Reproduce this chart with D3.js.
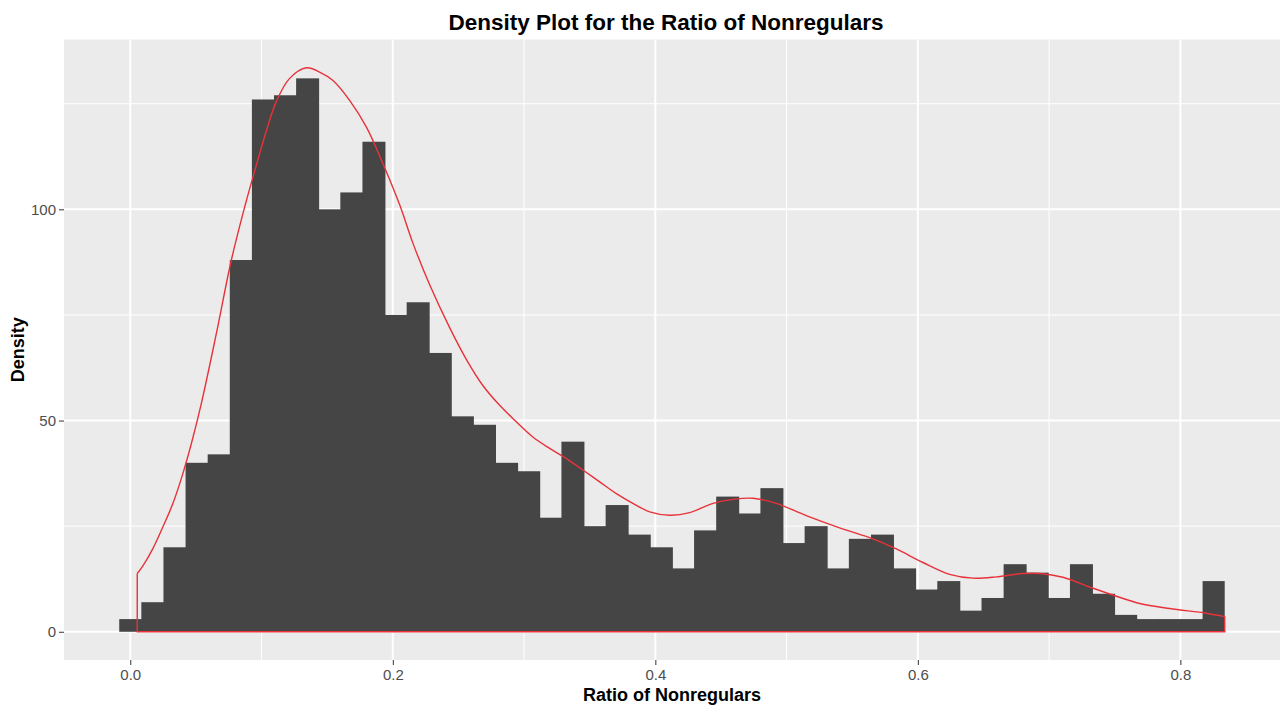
<!DOCTYPE html>
<html>
<head>
<meta charset="utf-8">
<script src="https://cdn.jsdelivr.net/npm/d3@7"></script>
<style>
  html, body { margin: 0; padding: 0; background: #ffffff; }
  svg { display: block; }
  text { font-family: "Liberation Sans", Arial, Helvetica, sans-serif; }
</style>
</head>
<body>
<svg id="chart" width="1282" height="708"></svg>
<script>
// ---- data ----
const binStart = -0.00842;      // left edge of first bin
const binWidth = 0.016844;      // width of each bin
const binCounts = [3, 7, 20, 40, 42, 88, 126, 127, 131, 100,
                   104, 116, 75, 78, 66, 51, 49, 40, 38, 27,
                   45, 25, 30, 23, 20, 15, 24, 32, 28, 34,
                   21, 25, 15, 22, 23, 15, 10, 12, 5, 8,
                   16, 14, 8, 16, 9, 4, 3, 3, 3, 12];

const densX = [0.0053, 0.0096, 0.0172, 0.0248, 0.0325, 0.0401, 0.0465, 0.0541, 0.0655, 0.0770,
               0.0871, 0.0947, 0.1036, 0.1112, 0.1214, 0.1343, 0.1442, 0.1544, 0.1671, 0.1798,
               0.1925, 0.2053, 0.2153, 0.2280, 0.2433, 0.2560, 0.2686, 0.2814, 0.2941, 0.3067,
               0.3195, 0.3322, 0.3448, 0.3576, 0.3703, 0.3829, 0.3957, 0.4110, 0.4261, 0.4439,
               0.4604, 0.4744, 0.4922, 0.5150, 0.5404, 0.5658, 0.5836, 0.6039, 0.6242, 0.6420,
               0.6598, 0.6801, 0.6928, 0.7105, 0.7309, 0.7486, 0.7690, 0.7918, 0.8198, 0.8338];
const densY = [13.8, 15.6, 19.7, 24.8, 30.4, 37.5, 44.5, 54.0, 70.5, 88.0,
               100.5, 109.0, 118.5, 125.5, 131.0, 133.5, 132.5, 130.5, 125.8, 119.5,
               110.8, 101.0, 92.0, 82.2, 72.0, 64.5, 58.3, 53.6, 49.7, 46.1,
               43.4, 41.0, 38.3, 35.5, 32.7, 30.4, 28.4, 27.6, 28.2, 30.4,
               31.4, 31.6, 30.4, 27.5, 24.6, 22.0, 19.6, 16.4, 13.6, 12.7,
               13.0, 13.8, 13.8, 12.9, 10.6, 8.7, 6.7, 5.5, 4.4, 3.6];

const xTicks = [0.0, 0.2, 0.4, 0.6, 0.8];
const xMinor = [0.1, 0.3, 0.5, 0.7];
const yTicks = [0, 50, 100];
const yMinor = [25, 75, 125];

const titleText = "Density Plot for the Ratio of Nonregulars";
const xTitle = "Ratio of Nonregulars";
const yTitle = "Density";

// ---- layout ----
const panel = { left: 64, right: 1280, top: 39.5, bottom: 660 };

const x = d3.scaleLinear().domain([-0.0505, 0.8759]).range([panel.left, panel.right]);
const y = d3.scaleLinear().domain([-6.68, 140.2]).range([panel.bottom, panel.top]);

const svg = d3.select("#chart");

// panel background
svg.append("rect")
  .attr("x", panel.left).attr("y", panel.top)
  .attr("width", panel.right - panel.left).attr("height", panel.bottom - panel.top)
  .attr("fill", "#EBEBEB");

const grid = svg.append("g");
grid.selectAll("line.xminor").data(xMinor).join("line")
  .attr("x1", d => x(d)).attr("x2", d => x(d))
  .attr("y1", panel.top).attr("y2", panel.bottom)
  .attr("stroke", "#ffffff").attr("stroke-width", 1);
grid.selectAll("line.yminor").data(yMinor).join("line")
  .attr("y1", d => y(d)).attr("y2", d => y(d))
  .attr("x1", panel.left).attr("x2", panel.right)
  .attr("stroke", "#ffffff").attr("stroke-width", 1);
grid.selectAll("line.xmajor").data(xTicks).join("line")
  .attr("x1", d => x(d)).attr("x2", d => x(d))
  .attr("y1", panel.top).attr("y2", panel.bottom)
  .attr("stroke", "#ffffff").attr("stroke-width", 2);
grid.selectAll("line.ymajor").data(yTicks).join("line")
  .attr("y1", d => y(d)).attr("y2", d => y(d))
  .attr("x1", panel.left).attr("x2", panel.right)
  .attr("stroke", "#ffffff").attr("stroke-width", 2);

// histogram bars
const bins = binCounts.map((c, i) => ({ x0: binStart + i * binWidth, x1: binStart + (i + 1) * binWidth, c, last: i === binCounts.length - 1 }));
svg.append("g").selectAll("rect").data(bins).join("rect")
  .attr("x", d => x(d.x0))
  .attr("width", d => x(d.x1) - x(d.x0) + (d.last ? 0 : 0.9))
  .attr("y", d => y(d.c))
  .attr("height", d => y(0) - y(d.c))
  .attr("fill", "#454545");

// density outline
const dens = densX.map((v, i) => [v, densY[i]]);
const curveLine = d3.line().x(d => x(d[0])).y(d => y(d[1])).curve(d3.curveCatmullRom.alpha(0.5));
svg.append("path")
  .attr("d", curveLine(dens))
  .attr("fill", "none").attr("stroke", "#E8323A").attr("stroke-width", 1.4);
const edge = [dens[dens.length - 1], [densX[densX.length - 1], 0], [densX[0], 0], dens[0]];
svg.append("path")
  .attr("d", d3.line().x(d => x(d[0])).y(d => y(d[1]))(edge))
  .attr("fill", "none").attr("stroke", "#E8323A").attr("stroke-width", 1.4);

// axes
const xAxis = d3.axisBottom(x).tickValues(xTicks).tickFormat(d3.format(".1f")).tickSize(5).tickPadding(4);
const gx = svg.append("g").attr("transform", `translate(0,${panel.bottom})`).call(xAxis);
gx.select(".domain").remove();
gx.selectAll(".tick line").attr("stroke", "#333333").attr("stroke-width", 1);
gx.selectAll(".tick text").attr("fill", "#4D4D4D").style("font-size", "15px")
  .style("font-family", '"Liberation Sans", Arial, sans-serif');

const yAxis = d3.axisLeft(y).tickValues(yTicks).tickFormat(d3.format("d")).tickSize(5).tickPadding(3);
const gy = svg.append("g").attr("transform", `translate(${panel.left},0)`).call(yAxis);
gy.select(".domain").remove();
gy.selectAll(".tick line").attr("stroke", "#333333").attr("stroke-width", 1);
gy.selectAll(".tick text").attr("fill", "#4D4D4D").style("font-size", "15px")
  .style("font-family", '"Liberation Sans", Arial, sans-serif');

// titles
svg.append("text")
  .attr("x", 666).attr("y", 30)
  .attr("text-anchor", "middle")
  .style("font-size", "22.5px").style("font-weight", "bold").attr("fill", "#000")
  .text(titleText);

svg.append("text")
  .attr("x", (panel.left + panel.right) / 2).attr("y", 701)
  .attr("text-anchor", "middle")
  .style("font-size", "18px").style("font-weight", "bold").attr("fill", "#000")
  .text(xTitle);

svg.append("text")
  .attr("transform", `translate(24,${(panel.top + panel.bottom) / 2}) rotate(-90)`)
  .attr("text-anchor", "middle")
  .style("font-size", "18px").style("font-weight", "bold").attr("fill", "#000")
  .text(yTitle);
</script>
</body>
</html>
